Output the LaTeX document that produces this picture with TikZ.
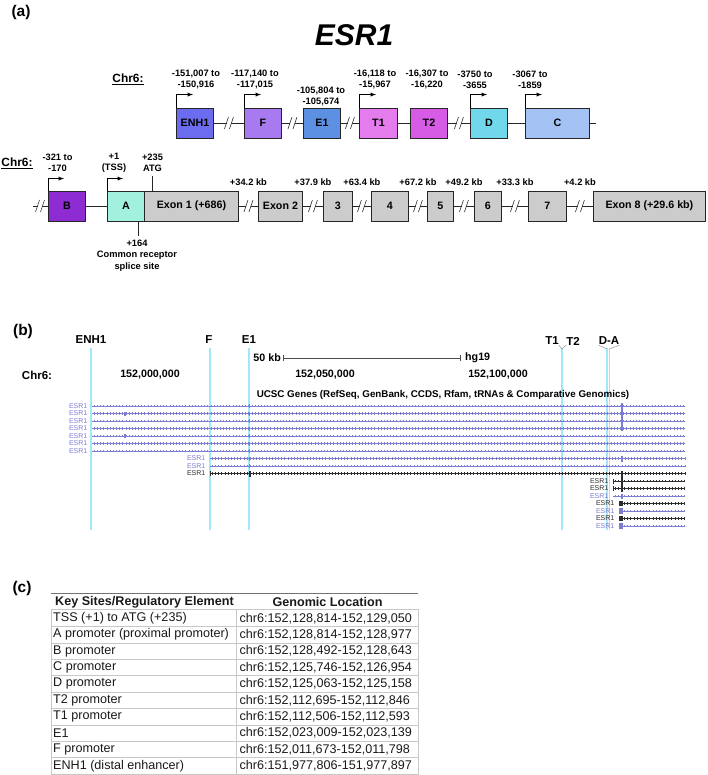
\documentclass[tikz,border=0pt]{standalone}
\usepackage{fontspec}
\setmainfont{Liberation Sans}
\usetikzlibrary{positioning,calc}

\newcommand\setsz[2]{\fontsize{#1}{#2}\selectfont}

\definecolor{cENH}{RGB}{108,108,240}
\definecolor{cF}{RGB}{168,122,240}
\definecolor{cE}{RGB}{92,144,226}
\definecolor{cT1}{RGB}{228,124,238}
\definecolor{cT2}{RGB}{214,92,230}
\definecolor{cD}{RGB}{112,216,234}
\definecolor{cC}{RGB}{164,194,244}
\definecolor{cB}{RGB}{140,44,210}
\definecolor{cA}{RGB}{162,240,222}
\definecolor{exgray}{RGB}{204,204,204}
\definecolor{ucsc}{RGB}{125,125,210}
\definecolor{trkblack}{RGB}{45,45,45}
\definecolor{hilite}{RGB}{160,232,250}
\definecolor{rule}{RGB}{200,200,200}

\begin{document}
\begin{tikzpicture}[x=1pt, y=-1pt]
  % -----------------------------
  % SETTINGS
  % -----------------------------
  \def\ya{123}   % centre line, upstream promoters
  \def\yb{206}   % centre line, exons
  \def\ty{406}   % first browser track
  \def\dy{7.5}   % track spacing
  \def\ry{618.3} % first table row
  \def\rh{16.4}  % table row height

  % -----------------------------
  % STYLES
  % -----------------------------
  \tikzset{
    gbox/.style={draw=black!85, line width=0.9pt, minimum height=30pt, inner sep=0pt,
                 anchor=west, font=\bfseries\setsz{10.7}{12}},
    lab/.style={font=\bfseries\setsz{9.3}{11}, align=center, inner sep=0pt},
    chr/.style={font=\bfseries\setsz{11.9}{13}, inner sep=0pt},
    panel/.style={font=\bfseries\setsz{15.5}{17}, inner sep=0pt},
    gline/.style={line width=0.9pt, draw=black!85},
    prom/.style={line width=0.9pt, draw=black, -latex},
    slash/.style={line width=0.6pt, draw=black!80},
    brkpic/.pic={
      \fill[white] (-2.2,-1.6) rectangle (2.2,1.6);
      \draw[slash] (-4.5,6) -- (-0.5,-6);
      \draw[slash] (0.5,6) -- (4.5,-6);
    },
    blab/.style={font=\bfseries\setsz{11.5}{13}, inner sep=0pt},
    chrpos/.style={font=\bfseries\setsz{10.7}{12}, inner sep=0pt},
    hl/.style={line width=1.3pt, draw=hilite},
    trk/.style={line width=0.6pt},
    chev/.style={line width=2.6pt, dash pattern=on 0.55pt off 2.6pt},
    tlab/.style={font=\setsz{7}{8}, inner sep=0pt, anchor=east},
    exm/.style={line width=2.4pt},
    thd/.style={font=\bfseries\setsz{12.6}{14}, inner sep=0pt, text=black!90},
    tcell/.style={font=\setsz{12.6}{14}, inner sep=0pt, anchor=west, text=black!90},
    tline/.style={line width=0.5pt, draw=rule},
  }

  \useasboundingbox (0,0) rectangle (708,775);

  % -----------------------------
  % (a) TITLE
  % -----------------------------
  \node[panel] (pa) at (21,12) {(a)};
  \node[font=\bfseries\itshape\setsz{30}{32}, inner sep=0pt] (title) at (354,35) {ESR1};

  % -----------------------------
  % UPSTREAM PROMOTERS
  % -----------------------------
  \node[chr] (chrA) at (128,79) {\underline{Chr6:}};

  \node[gbox, fill=cENH, minimum width=37pt] (enh1) at (176,\ya) {ENH1};
  \node[gbox, fill=cF,   minimum width=37pt] (f)    at (244,\ya) {F};
  \node[gbox, fill=cE,   minimum width=37pt] (e1)   at (303,\ya) {E1};
  \node[gbox, fill=cT1,  minimum width=38pt] (t1)   at (359,\ya) {T1};
  \node[gbox, fill=cT2,  minimum width=37pt] (t2)   at (410,\ya) {T2};
  \node[gbox, fill=cD,   minimum width=37pt] (d)    at (470,\ya) {D};
  \node[gbox, fill=cC,   minimum width=64pt] (c)    at (525,\ya) {C};
  \coordinate (endA) at (596,\ya);

  \foreach \a/\b in {enh1/f, f/e1, e1/t1, t1/t2, t2/d, d/c, c/endA}
    \draw[gline] (\a) -- (\b);

  % breaks in the line
  \foreach \a/\b in {enh1/f, f/e1, e1/t1, t2/d}
    \pic at ($(\a.east)!0.5!(\b.west)$) {brkpic};

  % transcription start arrows
  \foreach \n in {enh1, f, t1, d, c}
    \draw[prom] (\n.north west) -- ++(0,-13) -- ++(17,0);

  \node[lab] (lENH) at (196,79.5) {-151,007 to\\-150,916};
  \node[lab] (lF)   at (255,79.5) {-117,140 to\\-117,015};
  \node[lab] (lE1)  at (321,96.5) {-105,804 to\\-105,674};
  \node[lab] (lT1)  at (375,79.5) {-16,118 to\\-15,967};
  \node[lab] (lT2)  at (427,79.5) {-16,307 to\\-16,220};
  \node[lab] (lD)   at (475,79.5) {-3750 to\\-3655};
  \node[lab] (lC)   at (530,79.5) {-3067 to\\-1859};

  % -----------------------------
  % PROMOTERS A, B AND EXONS
  % -----------------------------
  \node[chr] (chrB) at (17,163) {\underline{Chr6:}};
  \coordinate (startB) at (33,\yb);

  \node[gbox, fill=cB,     minimum width=37pt]  (b)   at (48,\yb)  {B};
  \node[gbox, fill=cA,     minimum width=37pt]  (a)   at (107,\yb) {A};
  \node[gbox, fill=exgray, minimum width=94pt]  (ex1) at (144,\yb) {Exon 1 (+686)};
  \node[gbox, fill=exgray, minimum width=44pt]  (ex2) at (258,\yb) {Exon 2};
  \node[gbox, fill=exgray, minimum width=29pt]  (ex3) at (323,\yb) {3};
  \node[gbox, fill=exgray, minimum width=37pt]  (ex4) at (371,\yb) {4};
  \node[gbox, fill=exgray, minimum width=26pt]  (ex5) at (427,\yb) {5};
  \node[gbox, fill=exgray, minimum width=27pt]  (ex6) at (474,\yb) {6};
  \node[gbox, fill=exgray, minimum width=38pt]  (ex7) at (528,\yb) {7};
  \node[gbox, fill=exgray, minimum width=112pt] (ex8) at (593,\yb) {Exon 8 (+29.6 kb)};

  \foreach \a/\b in {startB/b, b/a, ex1/ex2, ex2/ex3, ex3/ex4, ex4/ex5, ex5/ex6, ex6/ex7, ex7/ex8}
    \draw[gline] (\a) -- (\b);

  \pic at (40,\yb) {brkpic};
  \foreach \a/\b/\txt in {ex1/ex2/+34.2 kb, ex2/ex3/+37.9 kb, ex3/ex4/+63.4 kb, ex4/ex5/+67.2 kb,
                          ex5/ex6/+49.2 kb, ex6/ex7/+33.3 kb, ex7/ex8/+4.2 kb} {
    \coordinate (m) at ($(\a.east)!0.5!(\b.west)$);
    \pic at (m) {brkpic};
    \node[lab] (kb\a) at ($(m)+(0,-24)$) {\txt};
  }

  \foreach \n in {b, a}
    \draw[prom] (\n.north west) -- ++(0,-12) -- ++(16,0);

  % ATG and splice site ticks
  \coordinate (atg) at ($(ex1.north west)+(8,-15)$);
  \draw[gline] (ex1.north west -| atg) -- (atg);
  \coordinate (spl) at ($(a.south west)+(31,15)$);
  \draw[gline] (a.south west -| spl) -- (spl);

  \node[lab] (lB)   at (57.5,162.5) {-321 to\\-170};
  \node[lab] (lA)   at (114,162.5)  {+1\\(TSS)};
  \node[lab] (lATG) at (152.5,162.5) {+235\\ATG};
  \node[lab, font=\bfseries\setsz{9.3}{11.5}] (lspl) at (137,255.5) {+164\\Common receptor\\splice site};

  % -----------------------------
  % (b) GENOME BROWSER VIEW
  % -----------------------------
  \node[panel] (pb) at (23,331) {(b)};

  \foreach \x in {91,210,249,562,607,609.5}
    \draw[hl] (\x,348) -- (\x,530);

  \node[blab] (bENH) at (91,340)  {ENH1};
  \node[blab] (bF)   at (209,340) {F};
  \node[blab] (bE1)  at (249,340) {E1};
  \node[blab] (bT1)  at (552,341) {T1};
  \node[blab] (bT2)  at (573,341) {T2};
  \node[blab] (bDA)  at (609,341) {D-A};
  \draw[line width=0.4pt, gray] (bT1.south east) -- (562,349) -- (bT2.south west);
  \draw[line width=0.4pt, gray] (bDA.south west) -- (607,349);
  \draw[line width=0.4pt, gray] (bDA.south east) -- (609.5,349);

  \node[chrpos, anchor=east] (kb50) at (281,358) {50 kb};
  \node[chrpos, anchor=west] (hg)   at (465,358) {hg19};
  \draw[|-|, line width=0.5pt, black!70] ($(kb50.east)+(2,0)$) -- ($(hg.west)+(-5,0)$);

  \node[blab]   (chrC) at (37,375)  {Chr6:};
  \node[chrpos] (p000) at (150,375) {152,000,000};
  \node[chrpos] (p050) at (325,375) {152,050,000};
  \node[chrpos] (p100) at (498,375) {152,100,000};

  \node[font=\bfseries\setsz{9.8}{11}, inner sep=0pt] (ucscG) at (443,395)
    {UCSC Genes (RefSeq, GenBank, CCDS, Rfam, tRNAs \& Comparative Genomics)};

  % gene tracks
  \foreach \k/\xs/\col in {1/92/ucsc, 2/92/ucsc, 3/92/ucsc, 4/92/ucsc, 5/92/ucsc, 6/92/ucsc,
                           7/92/ucsc, 8/210/ucsc, 9/210/ucsc, 10/210/trkblack,
                           11/613/trkblack, 12/613/trkblack, 13/613/ucsc,
                           14/619/trkblack, 15/619/ucsc, 16/619/trkblack, 17/619/ucsc} {
    \pgfmathsetmacro{\y}{\ty+(\k-1)*\dy}
    \node[tlab, text=\col] (esr\k) at (\xs-4.5,\y) {ESR1};
    \draw[trk, \col] (\xs,\y) -- (685,\y);
    \draw[chev, \col] (\xs+2,\y) -- (685,\y);
  }

  % track end bars
  \foreach \k/\xs in {10/210, 11/613, 12/613} {
    \pgfmathsetmacro{\y}{\ty+(\k-1)*\dy}
    \draw[line width=0.6pt, trkblack] (\xs,\y-2.5) -- (\xs,\y+2.5);
  }

  % exon marks
  \foreach \k in {1,...,9} {
    \pgfmathsetmacro{\y}{\ty+(\k-1)*\dy}
    \fill[ucsc] (248.8,\y-2) rectangle (250.4,\y+2);
  }
  \fill[trkblack] (249,470.5) rectangle (251,476.5);
  \foreach \k in {2,5} {
    \pgfmathsetmacro{\y}{\ty+(\k-1)*\dy}
    \fill[ucsc] (124,\y-2) rectangle (126,\y+2);
  }
  \draw[exm, ucsc] (622,403) -- (622,430.5);
  \draw[exm, ucsc] (622,456) -- (622,461.5);
  \draw[exm, trkblack] (622,471) -- (622,492);
  \draw[exm, ucsc] (622,493.5) -- (622,499);
  \foreach \k/\col in {14/trkblack, 15/ucsc, 16/trkblack, 17/ucsc} {
    \pgfmathsetmacro{\y}{\ty+(\k-1)*\dy}
    \fill[\col] (619,\y-2.6) rectangle (622.5,\y+2.6);
  }

  % -----------------------------
  % (c) TABLE
  % -----------------------------
  \node[panel] (pc) at (22,588) {(c)};

  \draw[line width=1pt, black!55] (51,593) -- (418,593);
  \node[thd, anchor=west] (hkey) at (55,602)    {Key Sites/Regulatory Element};
  \node[thd]              (hloc) at (327.5,602) {Genomic Location};
  \draw[tline] (51,609) -- (418,609);

  \foreach \k/\el/\loc in {
      1/{TSS (+1) to ATG (+235)}/{chr6:152,128,814-152,129,050},
      2/{A promoter (proximal promoter)}/{chr6:152,128,814-152,128,977},
      3/{B promoter}/{chr6:152,128,492-152,128,643},
      4/{C promoter}/{chr6:152,125,746-152,126,954},
      5/{D promoter}/{chr6:152,125,063-152,125,158},
      6/{T2 promoter}/{chr6:152,112,695-152,112,846},
      7/{T1 promoter}/{chr6:152,112,506-152,112,593},
      8/{E1}/{chr6:152,023,009-152,023,139},
      9/{F promoter}/{chr6:152,011,673-152,011,798},
      10/{ENH1 (distal enhancer)}/{chr6:151,977,806-151,977,897}} {
    \pgfmathsetmacro{\y}{\ry+(\k-1)*\rh}
    \node[tcell] (el\k)  at (53,\y)    {\el};
    \node[tcell] (loc\k) at (239.3,\y) {\loc};
    \draw[tline] (51,\y+8.2) -- (418,\y+8.2);
  }
  \foreach \x in {51,236,418}
    \draw[tline] (\x,609) -- (\x,774.5);
\end{tikzpicture}
\end{document}
